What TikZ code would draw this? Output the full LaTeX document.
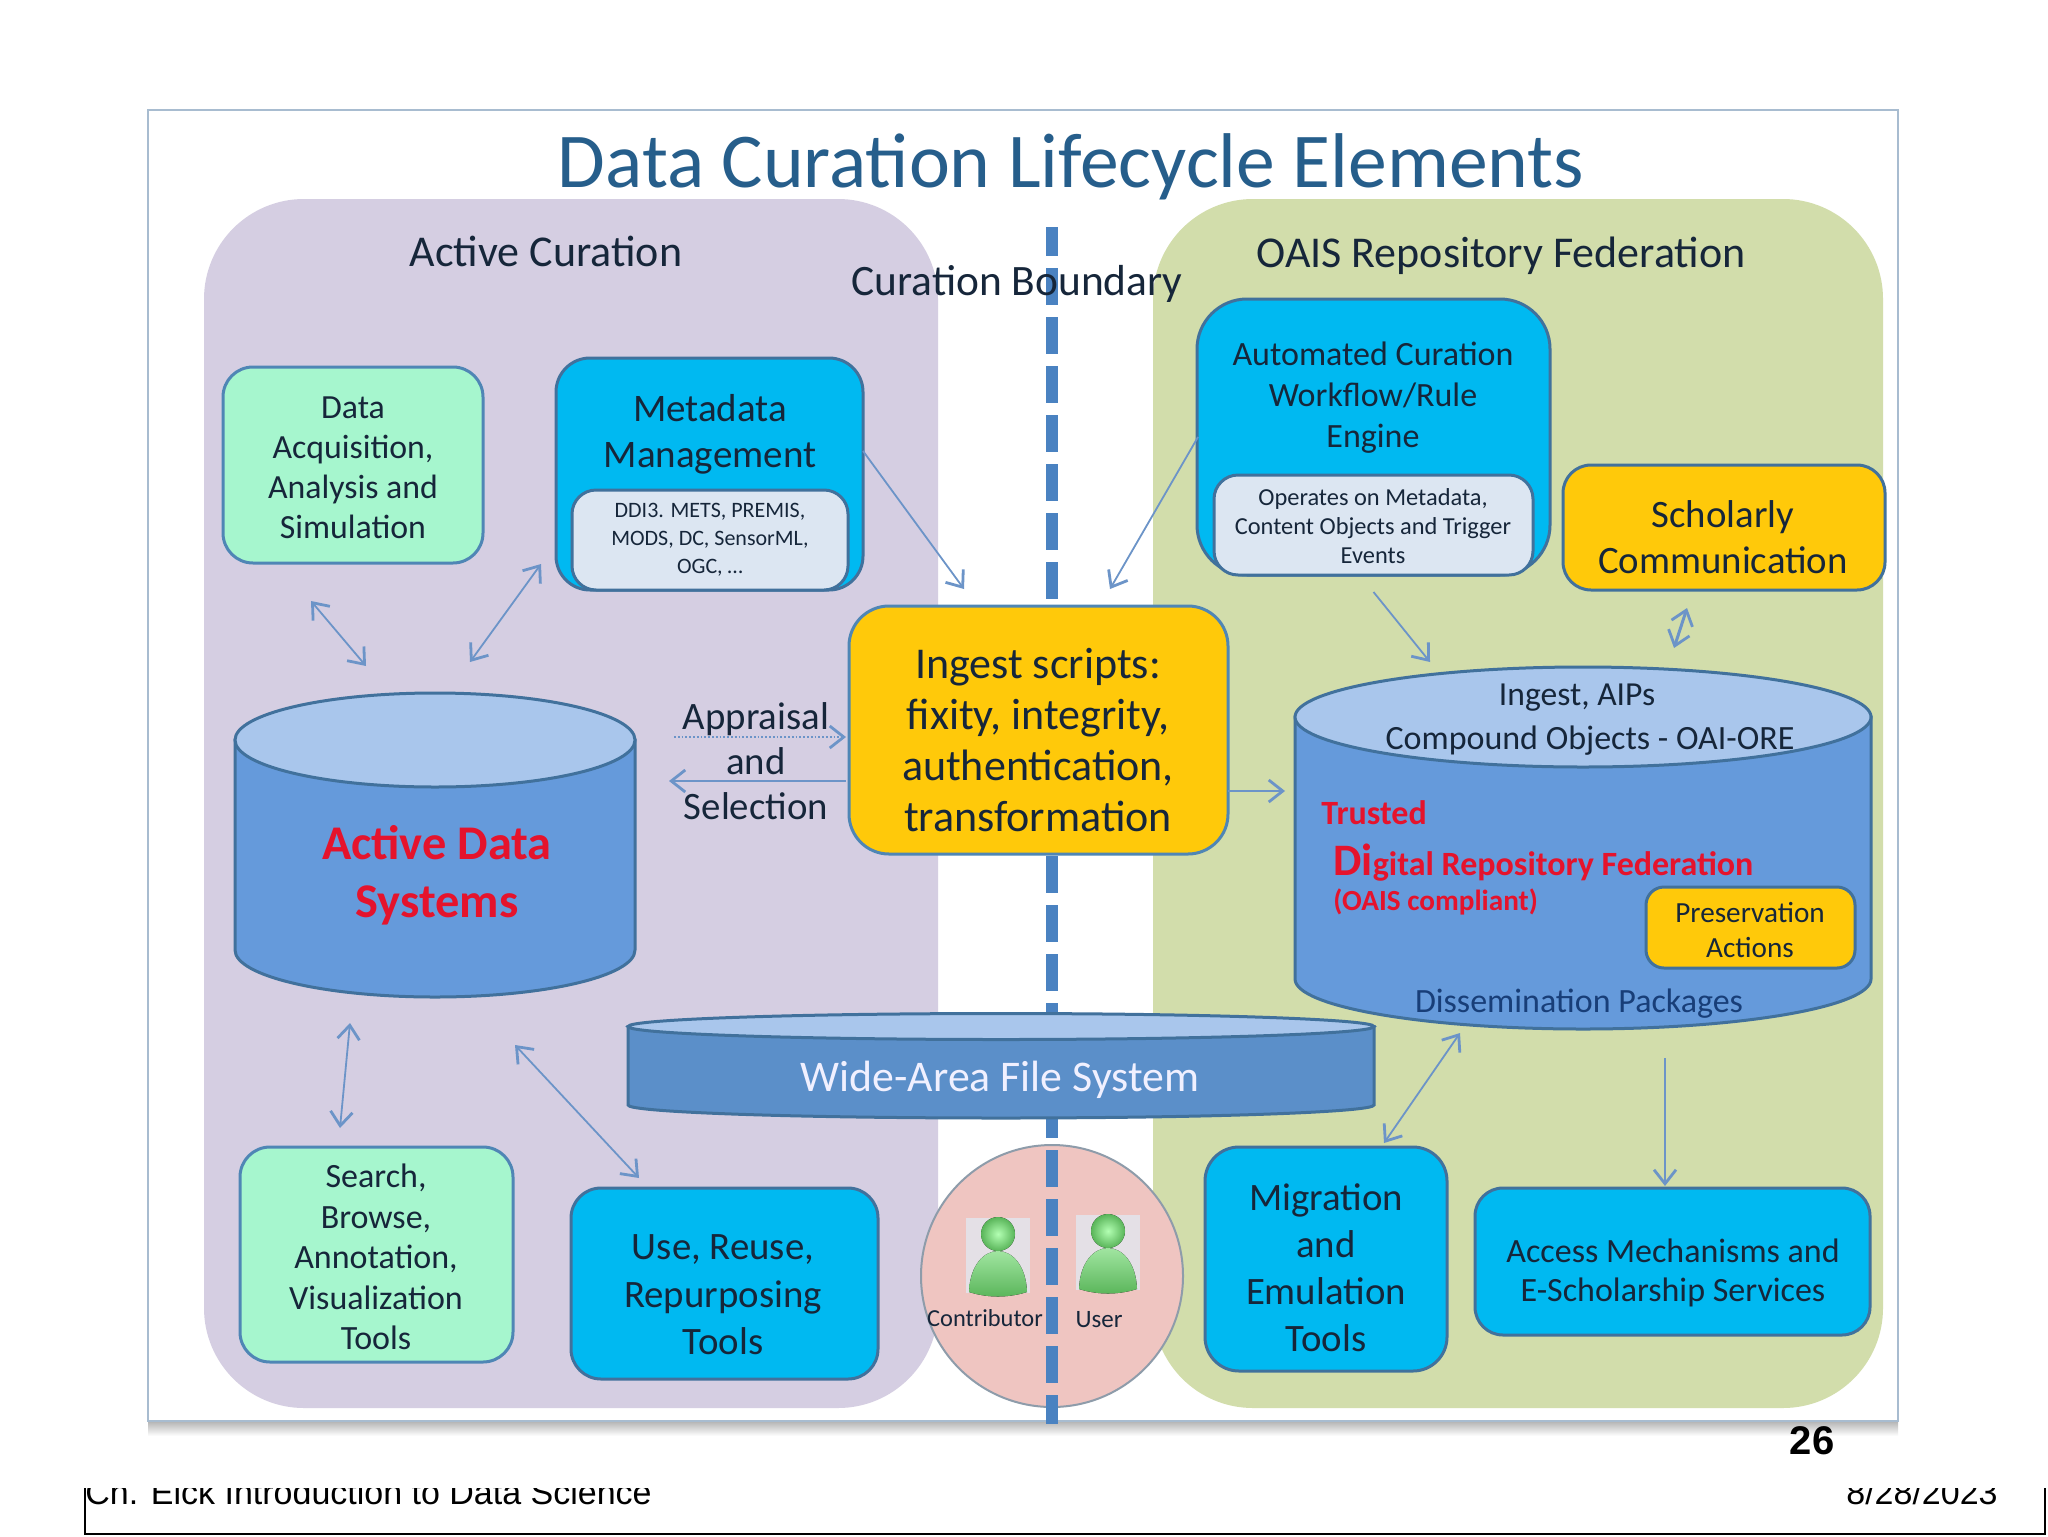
\documentclass[tikz,border=0pt]{standalone}
\usepackage{fontspec}
\setmainfont{Carlito}
\newfontfamily\footfont{Liberation Sans}
\usetikzlibrary{arrows.meta}
\definecolor{boxedge}{HTML}{4F86B5}
\definecolor{mint}{HTML}{A6F6CE}
\definecolor{cyanbox}{HTML}{00B9F1}
\definecolor{goldbox}{HTML}{FFC90A}
\definecolor{palebox}{HTML}{DCE6F2}
\definecolor{cylbody}{HTML}{659ADB}
\definecolor{cyltop}{HTML}{A9C6EC}
\definecolor{cyledge}{HTML}{41719C}
\definecolor{wafsbody}{HTML}{5B8FC9}
\definecolor{arrowblue}{HTML}{6C94C8}
\definecolor{txt}{HTML}{16263A}
\definecolor{redtxt}{HTML}{E5132C}
\definecolor{pinkfill}{HTML}{EFC5C1}
\definecolor{frameedge}{HTML}{A8BCD0}
\definecolor{circleedge}{HTML}{8E9CAA}
\definecolor{purplepanel}{HTML}{D5CEE2}
\definecolor{greenpanel}{HTML}{D2DDAB}
\definecolor{titleblue}{HTML}{265E8B}
\definecolor{bndblue}{HTML}{4A82C1}
\definecolor{iconback}{HTML}{E4E0E6}
\definecolor{dissemblue}{HTML}{183E78}
% centre x, top centre y, bottom centre y, x radius, y radius, body colour
\newcommand\cylshape[6]{%
  \filldraw[cylline, fill=#6] (#1-#4,#2) -- (#1-#4,#3) arc[start angle=180, end angle=0, x radius=#4, y radius=#5] -- (#1+#4,#2) -- cycle;
  \filldraw[cylline, fill=cyltop] (#1,#2) ellipse[x radius=#4, y radius=#5];
}
\tikzset{
  x=0.5pt, y=-0.5pt,
  fs/.style 2 args={font=\fontsize{#1}{#2}\selectfont, text=txt, align=center, inner sep=0pt},
  fsb/.style 2 args={font=\fontsize{#1}{#2}\selectfont\bfseries, text=redtxt, align=center, inner sep=0pt},
  wh/.style 2 args={minimum width=#1*0.5pt, minimum height=#2*0.5pt},
  box/.style={draw=cyledge, line width=1.5pt, inner sep=0pt},
  cylline/.style={draw=cyledge, line width=1.5pt},
  arr/.style={draw=arrowblue, line width=0.9pt, -{Straight Barb[length=7pt,width=11pt,line width=1.4pt]}},
  arrs/.style={draw=arrowblue, line width=0.9pt, {Straight Barb[length=7pt,width=11pt,line width=1.4pt]}-{Straight Barb[length=7pt,width=11pt,line width=1.4pt]}},
  person/.pic={
    \fill[top color=green!30!white!90!black, bottom color=green!55!black!65] (-29,37) .. controls (-28,10) and (-14,-4) .. (0,-4) .. controls (14,-4) and (28,10) .. (29,37) .. controls (10,43) and (-10,43) .. cycle;
    \fill[inner color=green!30!white, outer color=green!55!black!65] (0,-21) circle (17);
  }
}
\begin{document}
\begin{tikzpicture}
\useasboundingbox (0,0) rectangle (2048,1536);
\fill[white] (0,0) rectangle (2048,1536);

% slide frame
\shade[top color=black!30, bottom color=white] (148,1421) rectangle (1898,1436);
\draw[draw=frameedge, fill=white, line width=1pt] (148,110) rectangle (1898,1421);

% panels
\node[wh={734}{1209}, fill=purplepanel, rounded corners=50pt] (active) at (571,803.5) {};
\node[wh={730}{1209}, fill=greenpanel, rounded corners=50pt] (oais) at (1518,803.5) {};

\node[fs={38.8}{46}, text=titleblue] (title) at (1071,167) {Data Curation Lifecycle Elements};
\node[fs={22}{26}] (acttl) at (546,251) {Active Curation};
\node[fs={22}{26}] (oaisttl) at (1501,255.5) {OAIS Repository Federation};

% contributor / user circle, the boundary runs over it
\node[circle, draw=circleedge, line width=1pt, fill=pinkfill, minimum size=131pt] (people) at (1052,1276) {};
\coordinate (bndtop) at (1052,227);
\coordinate (bndbot) at (1052,1424);
\draw[draw=bndblue, line width=6pt, dash pattern=on 18.5pt off 6pt, dash phase=4pt] (bndtop) -- (bndbot);
\node[fs={21.7}{26}] (bndttl) at (1017,284) {Curation Boundary};

\node[fill=iconback, wh={64}{75}] (iconc) at (998,1255) {};
\node[fill=iconback, wh={64}{75}] (iconu) at (1108,1252) {};
\pic at (998,1255) {person};
\pic at (1108,1252) {person};
\node[fs={12.2}{14}] (contrib) at (985,1318) {Contributor};
\node[fs={12.5}{14}] (usr) at (1099,1320) {User};

% left side boxes
\node[box, fill=mint, wh={260}{196}, rounded corners=15pt, draw=boxedge] (dacq) at (353,465) {};
\node[fs={16.9}{20}] (dacqtxt) at (353,468) {Data\\Acquisition,\\Analysis and\\Simulation};
\node[box, fill=cyanbox, wh={307}{232}, rounded corners=17pt] (meta) at (709.5,474) {};
\node[fs={19.5}{23}] (metattl) at (710,434) {Metadata\\Management};
\node[box, fill=palebox, wh={276}{100}, rounded corners=12pt] (metain) at (710,540) {};
\node[fs={11}{14}] (metatxt) at (710,540) {DDI3. METS, PREMIS,\\MODS, DC, SensorML,\\OGC, \dots};

\node[box, fill=mint, wh={273}{215}, rounded corners=15pt, draw=boxedge] (search) at (376.5,1254.5) {};
\node[fs={17}{20.2}] (searchtxt) at (376,1257) {Search,\\Browse,\\Annotation,\\Visualization\\Tools};
\node[box, fill=cyanbox, wh={307}{191}, rounded corners=15pt] (use) at (724.5,1283.5) {};
\node[fs={19.4}{23.7}] (usetxt) at (723,1295) {Use, Reuse,\\Repurposing\\Tools};

% right side boxes
\node[box, fill=cyanbox, wh={353}{276}, rounded corners=25pt] (auto) at (1373.5,437) {};
\node[fs={17}{20.5}] (autottl) at (1373,398) {Automated Curation\\Workflow/Rule\\Engine};
\node[box, fill=palebox, wh={319}{100}, rounded corners=12pt] (autoin) at (1373.5,525) {};
\node[fs={12.2}{14.5}] (autotxt) at (1373,526) {Operates on Metadata,\\Content Objects and Trigger\\Events};
\node[box, fill=goldbox, wh={322}{125}, rounded corners=14pt] (schol) at (1724,527.5) {};
\node[fs={19.4}{23}] (scholtxt) at (1723,537) {Scholarly\\Communication};
\node[box, fill=cyanbox, wh={242}{224}, rounded corners=17pt] (migr) at (1326,1259) {};
\node[fs={19.4}{23.5}] (migrtxt) at (1326,1268) {Migration\\and\\Emulation\\Tools};
\node[box, fill=cyanbox, wh={395}{147}, rounded corners=14pt] (access) at (1672.5,1261.5) {};
\node[fs={17}{19.5}] (accesstxt) at (1673,1273) {Access Mechanisms and\\E-Scholarship Services};

% cylinders, the nodes only hold the names
\cylshape{435}{740}{950}{200}{47}{cylbody}
\node[wh={400}{304}] (adata) at (435,844.5) {};
\node[fsb={24.2}{28.8}] (adatatxt) at (437,875) {Active Data\\Systems};

\cylshape{1583}{717}{979}{288}{50}{cylbody}
\node[wh={576}{362}] (repo) at (1583,848) {};
\node[fs={16.8}{20}] (repoin) at (1577,697.5) {Ingest, AIPs};
\node[fs={17}{20}] (repocp) at (1590,741) {Compound Objects - OAI-ORE};
\node[fsb={17}{18}, anchor=west] (trusted) at (1321,813) {Trusted};
\node[fsb={17}{18}, anchor=west] (digital) at (1333,863) {{\fontsize{22.5}{18}\selectfont Di}gital Repository Federation};
\node[fsb={14.6}{15}, anchor=west] (compl) at (1333,902) {(OAIS compliant)};
\node[box, fill=goldbox, wh={209}{81}, rounded corners=9pt] (pres) at (1750.5,927.5) {};
\node[fs={14.6}{17.5}] (prestxt) at (1750,930) {Preservation\\Actions};
\node[fs={17}{18}, text=dissemblue] (dissem) at (1579,1004) {Dissemination Packages};

\cylshape{1001}{1026.5}{1105}{373}{13}{wafsbody}
\node[wh={746}{104}] (wafs) at (1001,1065) {};
\node[fs={21.9}{24}, text=blue!6!white] (wafstxt) at (1000,1079.5) {Wide-Area File System};

% ingest box on top of the boundary
\node[box, fill=goldbox, wh={379}{248}, rounded corners=20pt, draw=boxedge] (ingest) at (1038.5,730) {};
\node[fs={22}{25.6}] (ingesttxt) at (1038,740) {Ingest scripts:\\fixity, integrity,\\authentication,\\transformation};
\node[fs={19.4}{22.5}] (apptxt) at (756,761) {Appraisal\\and\\Selection};

% connectors
\draw[arrs] ([shift={(-42,136)}]dacq.center) -- ([shift={(-69,-178.5)}]adata.center);
\draw[arrs] ([shift={(35,-182.5)}]adata.center) -- ([shift={(-168.5,90)}]meta.center);
\draw[arr] ([shift={(153.5,-23)}]meta.center) -- ([shift={(-74.5,-141)}]ingest.center);
\draw[arr] ([shift={(-175.5,0)}]auto.center) -- ([shift={(71.5,-141)}]ingest.center);
\draw[arr] ([shift={(189.5,61)}]ingest.center) -- ([shift={(-298,-57)}]repo.center);
\draw[arr] ([shift={(0,67)}]autoin.center) -- ([shift={(-153,-186)}]repo.center);
\draw[arrs, line width=1.5pt] ([shift={(-37,80.5)}]schol.center) -- ([shift={(91,-200)}]repo.center);
\draw[arr, densely dotted] ([shift={(239,-107.5)}]adata.center) -- ([shift={(-192.5,7)}]ingest.center);
\draw[arr] ([shift={(-192.5,51)}]ingest.center) -- ([shift={(234,-63.5)}]adata.center);
\draw[arrs] ([shift={(-85,178.5)}]adata.center) -- ([shift={(-36.5,-126.5)}]search.center);
\draw[arrs] ([shift={(80,200.5)}]adata.center) -- ([shift={(-85.5,-105.5)}]use.center);
\draw[arrs] ([shift={(58,-116)}]migr.center) -- ([shift={(-123,185)}]repo.center);
\draw[arr] ([shift={(82,210)}]repo.center) -- ([shift={(-7.5,-75.5)}]access.center);

% slide footer
\node[font=\footfont\bfseries\fontsize{20}{24}\selectfont, inner sep=0pt] (pageno) at (1812,1441) {26};
\begin{scope}
\clip (0,1488) rectangle (2048,1536);
\node[font=\footfont\fontsize{17}{20}\selectfont, inner sep=0pt, anchor=base west] (course) at (85,1504) {Ch. Eick Introduction to Data Science};
\node[font=\footfont\fontsize{17}{20}\selectfont, inner sep=0pt, anchor=base east] (date) at (1998,1504) {8/28/2023};
\end{scope}
\coordinate (fl) at (85,1488);
\coordinate (fbl) at (85,1534);
\coordinate (fbr) at (2045,1534);
\coordinate (fr) at (2045,1488);
\draw[line width=1pt] (fl) -- (fbl) -- (fbr) -- (fr);
\end{tikzpicture}
\end{document}
